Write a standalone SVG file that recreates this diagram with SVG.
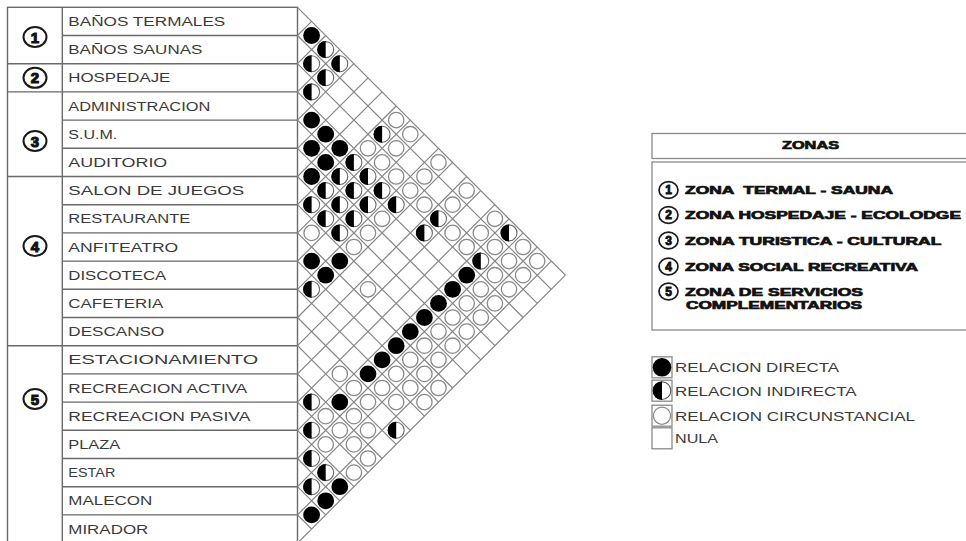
<svg xmlns="http://www.w3.org/2000/svg" width="966" height="541" viewBox="0 0 966 541">
<style>
.t{font-family:"Liberation Sans",Arial,sans-serif;font-size:12.5px;fill:#3a3a3a}
.lg{font-family:"Liberation Sans",Arial,sans-serif;font-size:13px;fill:#3a3a3a}
.zb{font-family:"Liberation Sans",Arial,sans-serif;font-weight:bold;font-size:11px;fill:#111;stroke:#111;stroke-width:0.7}
.zn{font-family:"Liberation Sans",Arial,sans-serif;font-weight:bold;fill:#111;stroke:#111;text-anchor:middle}
.ring{fill:#fff;stroke:#1a1a1a;stroke-width:2}
.ring2{fill:#fff;stroke:#1a1a1a;stroke-width:1.7}
.grid{stroke:#858585;stroke-width:1.2;fill:none}
.tbl{stroke:#6a6a6a;stroke-width:1.4;fill:none}
.box{stroke:#8a8a8a;stroke-width:1.3;fill:#fff}
</style>
<defs>
<g id="D"><circle r="8.4" fill="#000"/></g>
<g id="I"><circle r="8" fill="#fff" stroke="#6a6a6a" stroke-width="1.1"/><path d="M0,-8.5A8.5,8.5 0 0 0 0,8.5Z" fill="#000"/></g>
<g id="C"><circle r="7.7" fill="#fff" stroke="#8a8a8a" stroke-width="1.3"/></g>
</defs>
<rect width="966" height="541" fill="#fff"/>

<g id="table">
<rect class="tbl" x="7.5" y="7.3" width="290" height="535.8"/>
<path class="tbl" d="M62.3,7.3V543.1
M62.3,35.5H297.5M7.5,63.7H297.5M7.5,91.9H297.5M62.3,120.1H297.5M62.3,148.3H297.5M7.5,176.5H297.5
M62.3,204.7H297.5M62.3,232.9H297.5M62.3,261.1H297.5M62.3,289.3H297.5M62.3,317.5H297.5M7.5,345.7H297.5
M62.3,373.9H297.5M62.3,402.1H297.5M62.3,430.3H297.5M62.3,458.5H297.5M62.3,486.7H297.5M62.3,514.9H297.5"/>
</g>

<g id="zones">
<g id="zone1"><ellipse class="ring" cx="35" cy="37" rx="11.5" ry="10"/><text class="zn" x="35" y="42.5" font-size="15" stroke-width="1.1">1</text></g>
<g id="zone2"><ellipse class="ring" cx="35" cy="77.8" rx="11.5" ry="10"/><text class="zn" x="35" y="83.3" font-size="15" stroke-width="1.1">2</text></g>
<g id="zone3"><ellipse class="ring" cx="35" cy="141" rx="11.5" ry="10"/><text class="zn" x="35" y="146.5" font-size="15" stroke-width="1.1">3</text></g>
<g id="zone4"><ellipse class="ring" cx="35" cy="246" rx="11.5" ry="10"/><text class="zn" x="35" y="251.5" font-size="15" stroke-width="1.1">4</text></g>
<g id="zone5"><ellipse class="ring" cx="35" cy="399" rx="11.5" ry="10"/><text class="zn" x="35" y="404.5" font-size="15" stroke-width="1.1">5</text></g>
</g>

<g id="labels">
<text class="t" x="68.3" y="26" textLength="157" lengthAdjust="spacingAndGlyphs">BAÑOS TERMALES</text>
<text class="t" x="68.3" y="54.2" textLength="134" lengthAdjust="spacingAndGlyphs">BAÑOS SAUNAS</text>
<text class="t" x="68.3" y="82.4" textLength="102" lengthAdjust="spacingAndGlyphs">HOSPEDAJE</text>
<text class="t" x="68.3" y="110.6" textLength="142" lengthAdjust="spacingAndGlyphs">ADMINISTRACION</text>
<text class="t" x="68.3" y="138.8" textLength="49" lengthAdjust="spacingAndGlyphs">S.U.M.</text>
<text class="t" x="68.3" y="167" textLength="99" lengthAdjust="spacingAndGlyphs">AUDITORIO</text>
<text class="t" x="68.3" y="195.2" textLength="176" lengthAdjust="spacingAndGlyphs">SALON DE JUEGOS</text>
<text class="t" x="68.3" y="223.4" textLength="122" lengthAdjust="spacingAndGlyphs">RESTAURANTE</text>
<text class="t" x="68.3" y="251.6" textLength="110" lengthAdjust="spacingAndGlyphs">ANFITEATRO</text>
<text class="t" x="68.3" y="279.8" textLength="98" lengthAdjust="spacingAndGlyphs">DISCOTECA</text>
<text class="t" x="68.3" y="308" textLength="95" lengthAdjust="spacingAndGlyphs">CAFETERIA</text>
<text class="t" x="68.3" y="336.2" textLength="96" lengthAdjust="spacingAndGlyphs">DESCANSO</text>
<text class="t" x="68.3" y="364.4" textLength="190" lengthAdjust="spacingAndGlyphs">ESTACIONAMIENTO</text>
<text class="t" x="68.3" y="392.6" textLength="179" lengthAdjust="spacingAndGlyphs">RECREACION ACTIVA</text>
<text class="t" x="68.3" y="420.8" textLength="182" lengthAdjust="spacingAndGlyphs">RECREACION PASIVA</text>
<text class="t" x="68.3" y="449" textLength="52" lengthAdjust="spacingAndGlyphs">PLAZA</text>
<text class="t" x="68.3" y="477.2" textLength="47" lengthAdjust="spacingAndGlyphs">ESTAR</text>
<text class="t" x="68.3" y="505.4" textLength="84" lengthAdjust="spacingAndGlyphs">MALECON</text>
<text class="t" x="68.3" y="533.6" textLength="80" lengthAdjust="spacingAndGlyphs">MIRADOR</text>
</g>

<g id="connectors">
<path class="grid" d="
M297.5,7.3L565.4,275.2M297.5,35.5L551.3,289.3M297.5,63.7L537.2,303.4M297.5,91.9L523.1,317.5
M297.5,120.1L509,331.6M297.5,148.3L494.9,345.7M297.5,176.5L480.8,359.8M297.5,204.7L466.7,373.9
M297.5,232.9L452.6,388M297.5,261.1L438.5,402.1M297.5,289.3L424.4,416.2M297.5,317.5L410.3,430.3
M297.5,345.7L396.2,444.4M297.5,373.9L382.1,458.5M297.5,402.1L368,472.6M297.5,430.3L353.9,486.7
M297.5,458.5L339.8,500.8M297.5,486.7L325.7,514.9M297.5,514.9L311.6,529
M297.5,35.5L311.6,21.4M297.5,63.7L325.7,35.5M297.5,91.9L339.8,49.6M297.5,120.1L353.9,63.7
M297.5,148.3L368,77.8M297.5,176.5L382.1,91.9M297.5,204.7L396.2,106M297.5,232.9L410.3,120.1
M297.5,261.1L424.4,134.2M297.5,289.3L438.5,148.3M297.5,317.5L452.6,162.4M297.5,345.7L466.7,176.5
M297.5,373.9L480.8,190.6M297.5,402.1L494.9,204.7M297.5,430.3L509,218.8M297.5,458.5L523.1,232.9
M297.5,486.7L537.2,247M297.5,514.9L551.3,261.1M297.5,543.1L565.4,275.2"/>
</g>

<g id="cells">
<use href="#D" x="311.6" y="35.5"/>
<use href="#D" x="311.6" y="120.1"/>
<use href="#D" x="325.7" y="134.2"/>
<use href="#D" x="311.6" y="148.3"/>
<use href="#D" x="339.8" y="148.3"/>
<use href="#D" x="325.7" y="162.4"/>
<use href="#D" x="311.6" y="176.5"/>
<use href="#D" x="311.6" y="261.1"/>
<use href="#D" x="339.8" y="261.1"/>
<use href="#D" x="325.7" y="275.2"/>
<use href="#D" x="466.7" y="275.2"/>
<use href="#D" x="452.6" y="289.3"/>
<use href="#D" x="438.5" y="303.4"/>
<use href="#D" x="424.4" y="317.5"/>
<use href="#D" x="410.3" y="331.6"/>
<use href="#D" x="396.2" y="345.7"/>
<use href="#D" x="382.1" y="359.8"/>
<use href="#D" x="368" y="373.9"/>
<use href="#D" x="339.8" y="402.1"/>
<use href="#D" x="339.8" y="486.7"/>
<use href="#D" x="325.7" y="500.8"/>
<use href="#D" x="311.6" y="514.9"/>

<use href="#I" x="325.7" y="49.6"/>
<use href="#I" x="311.6" y="63.7"/>
<use href="#I" x="339.8" y="63.7"/>
<use href="#I" x="325.7" y="77.8"/>
<use href="#I" x="311.6" y="91.9"/>
<use href="#I" x="382.1" y="134.2"/>
<use href="#I" x="353.9" y="162.4"/>
<use href="#I" x="339.8" y="176.5"/>
<use href="#I" x="368" y="176.5"/>
<use href="#I" x="325.7" y="190.6"/>
<use href="#I" x="353.9" y="190.6"/>
<use href="#I" x="382.1" y="190.6"/>
<use href="#I" x="311.6" y="204.7"/>
<use href="#I" x="339.8" y="204.7"/>
<use href="#I" x="368" y="204.7"/>
<use href="#I" x="396.2" y="204.7"/>
<use href="#I" x="325.7" y="218.8"/>
<use href="#I" x="353.9" y="218.8"/>
<use href="#I" x="438.5" y="218.8"/>
<use href="#I" x="339.8" y="232.9"/>
<use href="#I" x="424.4" y="232.9"/>
<use href="#I" x="509" y="232.9"/>
<use href="#I" x="480.8" y="261.1"/>
<use href="#I" x="311.6" y="289.3"/>
<use href="#I" x="311.6" y="402.1"/>
<use href="#I" x="311.6" y="430.3"/>
<use href="#I" x="396.2" y="430.3"/>
<use href="#I" x="311.6" y="458.5"/>
<use href="#I" x="325.7" y="472.6"/>
<use href="#I" x="311.6" y="486.7"/>

<use href="#C" x="396.2" y="120.1"/>
<use href="#C" x="410.3" y="134.2"/>
<use href="#C" x="368" y="148.3"/>
<use href="#C" x="396.2" y="148.3"/>
<use href="#C" x="382.1" y="162.4"/>
<use href="#C" x="438.5" y="162.4"/>
<use href="#C" x="396.2" y="176.5"/>
<use href="#C" x="424.4" y="176.5"/>
<use href="#C" x="410.3" y="190.6"/>
<use href="#C" x="466.7" y="190.6"/>
<use href="#C" x="424.4" y="204.7"/>
<use href="#C" x="452.6" y="204.7"/>
<use href="#C" x="382.1" y="218.8"/>
<use href="#C" x="494.9" y="218.8"/>
<use href="#C" x="311.6" y="232.9"/>
<use href="#C" x="368" y="232.9"/>
<use href="#C" x="452.6" y="232.9"/>
<use href="#C" x="480.8" y="232.9"/>
<use href="#C" x="353.9" y="247"/>
<use href="#C" x="466.7" y="247"/>
<use href="#C" x="494.9" y="247"/>
<use href="#C" x="523.1" y="247"/>
<use href="#C" x="509" y="261.1"/>
<use href="#C" x="537.2" y="261.1"/>
<use href="#C" x="494.9" y="275.2"/>
<use href="#C" x="523.1" y="275.2"/>
<use href="#C" x="368" y="289.3"/>
<use href="#C" x="480.8" y="289.3"/>
<use href="#C" x="509" y="289.3"/>
<use href="#C" x="466.7" y="303.4"/>
<use href="#C" x="494.9" y="303.4"/>
<use href="#C" x="452.6" y="317.5"/>
<use href="#C" x="480.8" y="317.5"/>
<use href="#C" x="438.5" y="331.6"/>
<use href="#C" x="466.7" y="331.6"/>
<use href="#C" x="424.4" y="345.7"/>
<use href="#C" x="452.6" y="345.7"/>
<use href="#C" x="410.3" y="359.8"/>
<use href="#C" x="438.5" y="359.8"/>
<use href="#C" x="339.8" y="373.9"/>
<use href="#C" x="396.2" y="373.9"/>
<use href="#C" x="424.4" y="373.9"/>
<use href="#C" x="353.9" y="388"/>
<use href="#C" x="382.1" y="388"/>
<use href="#C" x="410.3" y="388"/>
<use href="#C" x="438.5" y="388"/>
<use href="#C" x="368" y="402.1"/>
<use href="#C" x="396.2" y="402.1"/>
<use href="#C" x="424.4" y="402.1"/>
<use href="#C" x="325.7" y="416.2"/>
<use href="#C" x="353.9" y="416.2"/>
<use href="#C" x="339.8" y="430.3"/>
<use href="#C" x="368" y="430.3"/>
<use href="#C" x="325.7" y="444.4"/>
<use href="#C" x="353.9" y="444.4"/>
<use href="#C" x="368" y="458.5"/>
<use href="#C" x="353.9" y="472.6"/>
</g>

<g id="legend-zonas">
<rect class="box" x="652" y="133.5" width="330" height="25"/>
<text class="zb" x="782" y="148.5" font-size="9" textLength="57" lengthAdjust="spacingAndGlyphs">ZONAS</text>
<rect class="box" x="652" y="162" width="330" height="168"/>
<g id="lz1"><ellipse class="ring2" cx="668.5" cy="190" rx="9.5" ry="8.3"/><text class="zn" x="668.5" y="194.2" font-size="12" stroke-width="0.9">1</text>
<text class="zb" x="685" y="194" textLength="208" lengthAdjust="spacingAndGlyphs" xml:space="preserve">ZONA  TERMAL - SAUNA</text></g>
<g id="lz2"><ellipse class="ring2" cx="668.5" cy="215" rx="9.5" ry="8.3"/><text class="zn" x="668.5" y="219.2" font-size="12" stroke-width="0.9">2</text>
<text class="zb" x="685" y="219" textLength="276" lengthAdjust="spacingAndGlyphs">ZONA HOSPEDAJE - ECOLODGE</text></g>
<g id="lz3"><ellipse class="ring2" cx="668.5" cy="240.5" rx="9.5" ry="8.3"/><text class="zn" x="668.5" y="244.7" font-size="12" stroke-width="0.9">3</text>
<text class="zb" x="685" y="245" textLength="256.5" lengthAdjust="spacingAndGlyphs">ZONA TURISTICA - CULTURAL</text></g>
<g id="lz4"><ellipse class="ring2" cx="668.5" cy="266.5" rx="9.5" ry="8.3"/><text class="zn" x="668.5" y="270.7" font-size="12" stroke-width="0.9">4</text>
<text class="zb" x="685" y="271" textLength="233" lengthAdjust="spacingAndGlyphs">ZONA SOCIAL RECREATIVA</text></g>
<g id="lz5"><ellipse class="ring2" cx="668.5" cy="291.5" rx="9.5" ry="8.3"/><text class="zn" x="668.5" y="295.7" font-size="12" stroke-width="0.9">5</text>
<text class="zb" x="685" y="295.7" textLength="178" lengthAdjust="spacingAndGlyphs">ZONA DE SERVICIOS</text>
<text class="zb" x="686" y="309" textLength="176" lengthAdjust="spacingAndGlyphs">COMPLEMENTARIOS</text></g>
</g>

<g id="legend-relaciones">
<g id="lr1"><rect class="box" x="652" y="356.8" width="20" height="21"/><circle cx="662" cy="367.3" r="9.3" fill="#000"/>
<text class="lg" x="675" y="372.3" textLength="164" lengthAdjust="spacingAndGlyphs">RELACION DIRECTA</text></g>
<g id="lr2"><rect class="box" x="652" y="380.2" width="20" height="21"/><circle cx="662" cy="390.7" r="8.8" fill="#fff" stroke="#555" stroke-width="1.1"/><path d="M662,381.4A9.3,9.3 0 0 0 662,400Z" fill="#000"/>
<text class="lg" x="675" y="395.7" textLength="181.7" lengthAdjust="spacingAndGlyphs">RELACION INDIRECTA</text></g>
<g id="lr3"><rect class="box" x="652" y="405.2" width="20" height="21"/><circle cx="662" cy="415.7" r="8.6" fill="#fff" stroke="#8a8a8a" stroke-width="1.3"/>
<text class="lg" x="675" y="420.7" textLength="240" lengthAdjust="spacingAndGlyphs">RELACION CIRCUNSTANCIAL</text></g>
<g id="lr4"><rect class="box" x="652" y="427.8" width="20" height="21"/>
<text class="lg" x="675" y="443.3" textLength="43" lengthAdjust="spacingAndGlyphs">NULA</text></g>
</g>
</svg>
